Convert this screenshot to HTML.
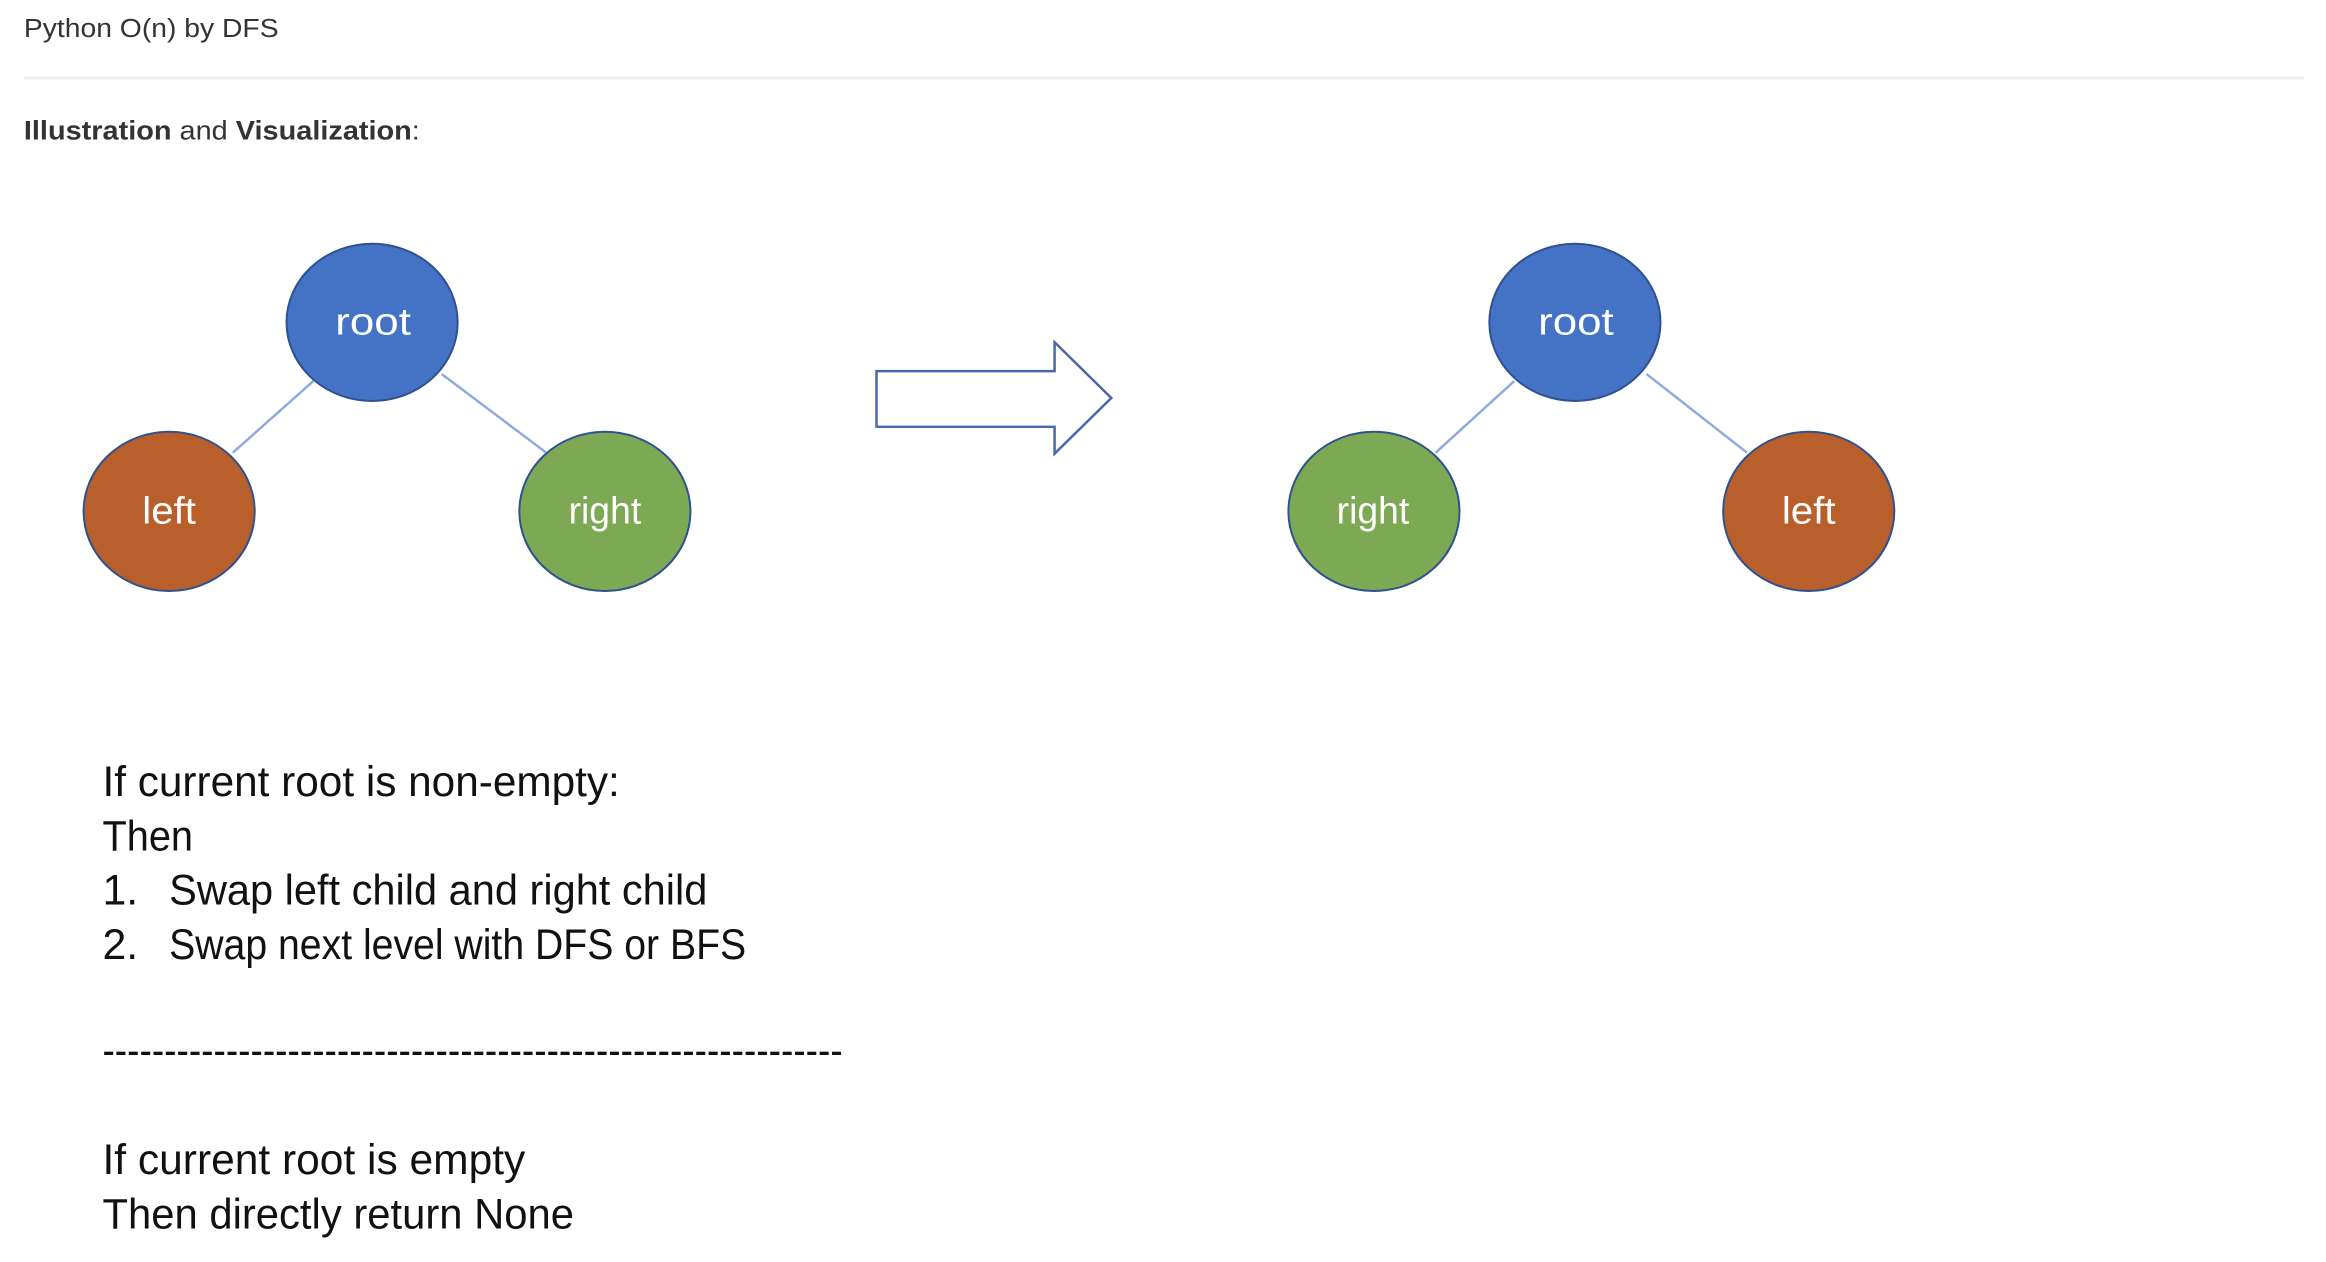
<!DOCTYPE html>
<html><head><meta charset="utf-8"><style>
html,body{margin:0;padding:0;background:#fff;width:2326px;height:1262px;overflow:hidden}
svg{display:block}
</style></head><body>
<svg width="2326" height="1262" viewBox="0 0 2326 1262" xmlns="http://www.w3.org/2000/svg">
<g transform="scale(0.9949)">
<g font-family="Liberation Sans, sans-serif" fill="#333">
<text x="24" y="37" font-size="26" textLength="256" lengthAdjust="spacingAndGlyphs">Python O(n) by DFS</text>
<rect x="24" y="77" width="2292" height="3" fill="#eeeeee"/>
<text x="24" y="140" font-size="27" textLength="398" lengthAdjust="spacingAndGlyphs"><tspan font-weight="bold">Illustration</tspan> and <tspan font-weight="bold">Visualization</tspan>:</text>
</g>
<g stroke="#8FAADC" stroke-width="2.5">
<line x1="315" y1="383" x2="234" y2="455"/>
<line x1="444" y1="376" x2="549" y2="455"/>
<line x1="1522" y1="383" x2="1443" y2="455"/>
<line x1="1655" y1="376" x2="1756" y2="455"/>
</g>
<g stroke="#2F528F" stroke-width="2">
<ellipse cx="374" cy="324" rx="86" ry="79" fill="#4472C4"/>
<ellipse cx="170" cy="514" rx="86" ry="80" fill="#B95F2B"/>
<ellipse cx="608" cy="514" rx="86" ry="80" fill="#7DA955"/>
<ellipse cx="1583" cy="324" rx="86" ry="79" fill="#4472C4"/>
<ellipse cx="1381" cy="514" rx="86" ry="80" fill="#7DA955"/>
<ellipse cx="1818" cy="514" rx="86" ry="80" fill="#B95F2B"/>
</g>
<polygon points="881,373 1060,373 1060,344 1117,400 1060,456 1060,429 881,429" fill="#fff" stroke="#4A67A8" stroke-width="2.5"/>
<g font-family="Liberation Sans, sans-serif" font-size="38" fill="#fff" text-anchor="middle">
<text x="375" y="336" textLength="76" lengthAdjust="spacingAndGlyphs">root</text>
<text x="170" y="526" textLength="54" lengthAdjust="spacingAndGlyphs">left</text>
<text x="608" y="526" textLength="73" lengthAdjust="spacingAndGlyphs">right</text>
<text x="1584" y="336" textLength="76" lengthAdjust="spacingAndGlyphs">root</text>
<text x="1380" y="526" textLength="73" lengthAdjust="spacingAndGlyphs">right</text>
<text x="1818" y="526" textLength="54" lengthAdjust="spacingAndGlyphs">left</text>
</g>
<g font-family="Liberation Sans, sans-serif" font-size="43" fill="#111">
<text x="103" y="800" textLength="520" lengthAdjust="spacingAndGlyphs">If current root is non-empty:</text>
<text x="103" y="855" textLength="91" lengthAdjust="spacingAndGlyphs">Then</text>
<text x="103" y="909">1.</text>
<text x="170" y="909" textLength="541" lengthAdjust="spacingAndGlyphs">Swap left child and right child</text>
<text x="103" y="964">2.</text>
<text x="170" y="964" textLength="580" lengthAdjust="spacingAndGlyphs">Swap next level with DFS or BFS</text>
<text x="103" y="1070" textLength="744" lengthAdjust="spacingAndGlyphs">------------------------------------------------------------</text>
<text x="103" y="1180" textLength="425" lengthAdjust="spacingAndGlyphs">If current root is empty</text>
<text x="103" y="1235" textLength="474" lengthAdjust="spacingAndGlyphs">Then directly return None</text>
</g>
</g>
</svg>
</body></html>
